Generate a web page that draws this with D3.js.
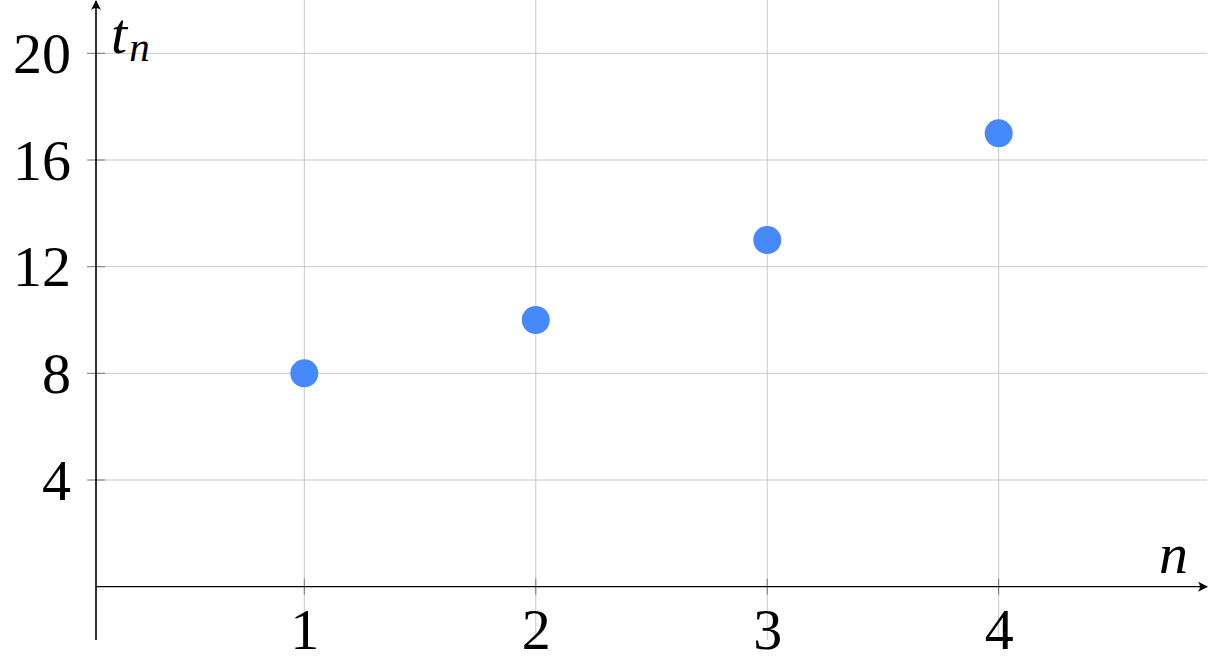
<!DOCTYPE html>
<html>
<head>
<meta charset="utf-8">
<script src="https://cdn.jsdelivr.net/npm/d3@7"></script>
<style>
body { margin: 0; background: #fff; }
text { font-family: "Liberation Serif", "DejaVu Serif", serif; }
</style>
</head>
<body>
<div id="chart"></div>
<script>
// data
var nValues = [1, 2, 3, 4];
var tValues = [8, 10, 13, 17];
var xTicks = [1, 2, 3, 4];
var yTicks = [4, 8, 12, 16, 20];

var width = 1210, height = 664;
var dotColor = "#4689fb";
var gridColor = "#c8c8c8";
var fontSize = 58;

var xScale = d3.scaleLinear().domain([0.1, 4.9]).range([96, 1207]);
var yScale = d3.scaleLinear().domain([-2, 22]).range([640, 0]);

var svg = d3.select("#chart").append("svg")
  .attr("width", width)
  .attr("height", height);

/* grid */
svg.append("g").selectAll("line.vgrid")
  .data(xTicks).enter()
  .append("line")
  .attr("x1", d => xScale(d)).attr("x2", d => xScale(d))
  .attr("y1", yScale(22)).attr("y2", yScale(-2))
  .attr("stroke", gridColor).attr("stroke-width", 1);

svg.append("g").selectAll("line.hgrid")
  .data(yTicks).enter()
  .append("line")
  .attr("x1", xScale(0.1)).attr("x2", xScale(4.9))
  .attr("y1", d => yScale(d)).attr("y2", d => yScale(d))
  .attr("stroke", gridColor).attr("stroke-width", 1);

/* arrow head */
var defs = svg.append("defs");
defs.append("marker")
  .attr("id", "arrow")
  .attr("viewBox", "0 0 10 10")
  .attr("refX", 9).attr("refY", 5)
  .attr("markerWidth", 10).attr("markerHeight", 10)
  .attr("markerUnits", "userSpaceOnUse")
  .attr("orient", "auto")
  .append("path")
  .attr("d", "M0,0 Q4,5 0,10 L10,5 Z")
  .attr("fill", "#000");

/* axes */
var xAxis = d3.axisBottom(xScale).tickValues(xTicks).tickSize(0).tickFormat(d3.format("d"));
var yAxis = d3.axisLeft(yScale).tickValues(yTicks).tickSize(0).tickFormat(d3.format("d"));

var gx = svg.append("g")
  .attr("transform", `translate(0, ${yScale(0)})`)
  .call(xAxis);
gx.select(".domain").remove();
gx.selectAll("text")
  .attr("font-size", fontSize)
  .attr("font-family", "Liberation Serif, serif")
  .attr("fill", "#000")
  .attr("dy", null)
  .attr("y", 62);

var gy = svg.append("g")
  .attr("transform", `translate(${xScale(0.1)}, 0)`)
  .call(yAxis);
gy.select(".domain").remove();
gy.selectAll("text")
  .attr("font-size", fontSize)
  .attr("font-family", "Liberation Serif, serif")
  .attr("fill", "#000")
  .attr("dy", "0.33em")
  .attr("x", -25);

/* small dark ticks on the axes */
svg.append("g").selectAll("line")
  .data(xTicks).enter()
  .append("line")
  .attr("x1", d => xScale(d)).attr("x2", d => xScale(d))
  .attr("y1", yScale(0) - 8).attr("y2", yScale(0) + 8)
  .attr("stroke", "#777").attr("stroke-width", 1);
svg.append("g").selectAll("line")
  .data(yTicks).enter()
  .append("line")
  .attr("x1", xScale(0.1) - 9).attr("x2", xScale(0.1) + 9)
  .attr("y1", d => yScale(d)).attr("y2", d => yScale(d))
  .attr("stroke", "#777").attr("stroke-width", 1);

svg.append("line")
  .attr("x1", xScale(0.1)).attr("x2", xScale(4.9))
  .attr("y1", yScale(0)).attr("y2", yScale(0))
  .attr("stroke", "#000").attr("stroke-width", 1.3)
  .attr("marker-end", "url(#arrow)");

svg.append("line")
  .attr("x1", xScale(0.1)).attr("x2", xScale(0.1))
  .attr("y1", yScale(-2)).attr("y2", yScale(22) + 1)
  .attr("stroke", "#000").attr("stroke-width", 1.6)
  .attr("marker-end", "url(#arrow)");

/* axis labels */
var tl = svg.append("text")
  .attr("x", 111)
  .attr("y", 53)
  .attr("font-size", fontSize)
  .attr("font-style", "italic");
tl.append("tspan").text("t");
tl.append("tspan").text("n").attr("font-size", 41).attr("dx", 2).attr("dy", 8);

svg.append("text")
  .attr("x", 1159)
  .attr("y", 573)
  .attr("font-size", fontSize)
  .attr("font-style", "italic")
  .text("n");

/* points */
svg.append("g").selectAll("circle")
  .data(nValues).enter()
  .append("circle")
  .attr("cx", (d, i) => xScale(nValues[i]))
  .attr("cy", (d, i) => yScale(tValues[i]))
  .attr("r", 14)
  .attr("fill", dotColor);
</script>
</body>
</html>
